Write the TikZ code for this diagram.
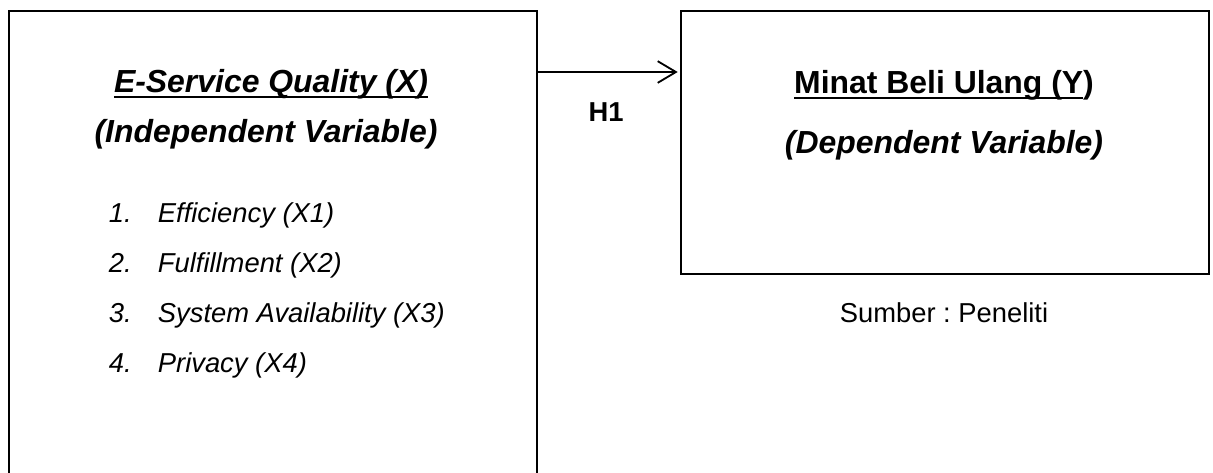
\documentclass[tikz,border=0pt]{standalone}
\usepackage{fontspec}
\setmainfont{Liberation Sans}
\usepackage{tikz}
\usetikzlibrary{arrows.meta}

\newcommand\ulin[1]{\setbox0\hbox{#1}\rlap{\rule[-2.8pt]{\wd0}{0.9pt}}\box0}

\begin{document}
\frenchspacing
\begin{tikzpicture}[x=0.4386pt, y=-0.4386pt, line width=0.8pt, shorten >=1pt]
  \tikzstyle{box}=[draw, rectangle, minimum width=231.6pt, anchor=north west, inner sep=0pt]
  \tikzstyle{head}=[font=\fontsize{14}{17}\selectfont\bfseries, anchor=base, inner sep=0pt]
  \tikzstyle{item}=[font=\fontsize{12}{14}\selectfont\itshape, anchor=base west, inner sep=0pt]
  \tikzstyle{plain}=[font=\fontsize{12}{14}\selectfont, anchor=base, inner sep=0pt]
  \useasboundingbox (0,0) rectangle (1213,472);

  \node[box, minimum height=215pt] (X_box) at (8,10) {};
  \node[box, minimum height=115.4pt] (Y_box) at (680,10) {};

  \node[head] (X_name) at (271,92) {\itshape\ulin{E-Service Quality (X)}};
  \node[head] (X_type) at (266,142) {\itshape(Independent Variable)};
  \node[item] (X_1) at (108,222) {\makebox[21.5pt][l]{1.}Efficiency (X1)};
  \node[item] (X_2) at (108,272) {\makebox[21.5pt][l]{2.}Fulfillment (X2)};
  \node[item] (X_3) at (108,322) {\makebox[21.5pt][l]{3.}System Availability (X3)};
  \node[item] (X_4) at (108,372) {\makebox[21.5pt][l]{4.}Privacy (X4)};

  \node[head] (Y_name) at (944,93) {\ulin{Minat Beli Ulang (Y})};
  \node[head] (Y_type) at (944,153) {\itshape(Dependent Variable)};
  \node[plain] (source) at (944,322) {Sumber :\ Peneliti};

  \draw[-{Straight Barb[length=8pt, width=9.5pt]}] (X_box.north east) ++(0,62) coordinate (H) -- (H -| Y_box.west);
  \node[plain, font=\fontsize{12}{14}\selectfont\bfseries] (H1) at (606,121) {H1};
\end{tikzpicture}
\end{document}
